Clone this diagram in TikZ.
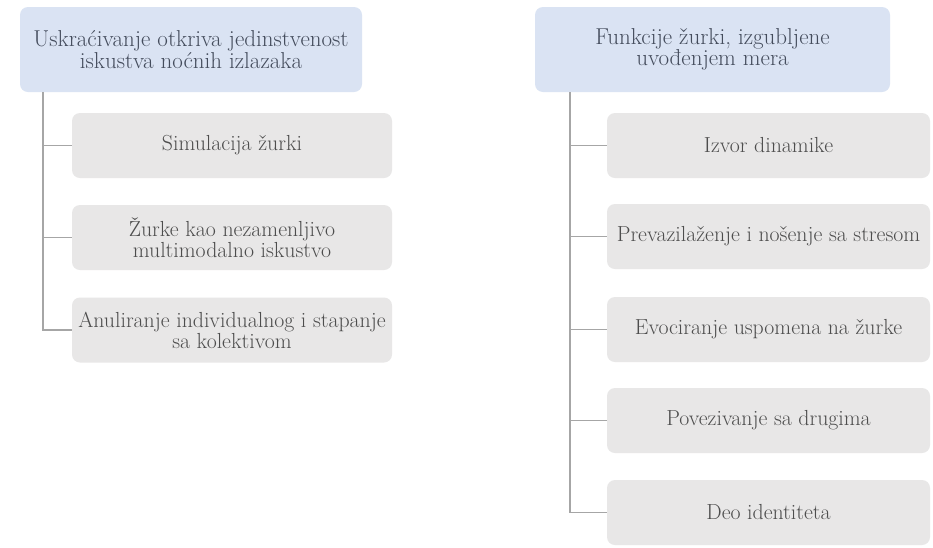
\documentclass[tikz,border=0pt]{standalone}
\usepackage{fontspec}
\definecolor{rootfill}{HTML}{DAE3F3}
\definecolor{childfill}{HTML}{E8E7E7}
\definecolor{roottext}{HTML}{444C5C}
\definecolor{childtext}{HTML}{4D4D4D}
\definecolor{linecol}{HTML}{A6A6A6}
\begin{document}
\begin{tikzpicture}[x=1pt,y=-1pt,
  rootbox/.style={fill=rootfill, rounded corners=8pt, inner sep=0pt, align=center,
    text=roottext, font=\fontsize{23}{21.5}\selectfont},
  childbox/.style={fill=childfill, rounded corners=8pt, inner sep=0pt, align=center,
    text=childtext, font=\fontsize{21.8}{21}\selectfont, minimum height=65pt},
  conn/.style={draw=linecol, line width=1.5pt}]
\useasboundingbox[fill=white] (0,0) rectangle (933,547);
% left tree
\node[rootbox, minimum width=342pt, minimum height=85pt] (lroot) at (191,49.5)
  {Uskraćivanje otkriva jedinstvenost\\iskustva noćnih izlazaka};
\node[childbox, minimum width=320pt] (lc1) at (232,145.5) {Simulacija žurki};
\node[childbox, minimum width=320pt] (lc2) at (232,237.5) {Žurke kao nezamenljivo\\multimodalno iskustvo};
\node[childbox, minimum width=320pt] (lc3) at (232,330) {Anuliranje individualnog i stapanje\\sa kolektivom};
\coordinate (lbus) at (43,0);
% right tree
\node[rootbox, minimum width=355pt, minimum height=85pt] (rroot) at (712.5,49.5)
  {Funkcije žurki, izgubljene\\uvođenjem mera};
\node[childbox, minimum width=323pt] (rc1) at (768.5,145.5) {Izvor dinamike};
\node[childbox, minimum width=323pt] (rc2) at (768.5,236.5) {Prevazilaženje i nošenje sa stresom};
\node[childbox, minimum width=323pt] (rc3) at (768.5,329.5) {Evociranje uspomena na žurke};
\node[childbox, minimum width=323pt] (rc4) at (768.5,420.5) {Povezivanje sa drugima};
\node[childbox, minimum width=323pt] (rc5) at (768.5,512.5) {Deo identiteta};
\coordinate (rbus) at (570,0);
% connectors
\draw[conn] (lroot.south -| lbus) |- (lc3.west);
\draw[conn] (lc1.west -| lbus) -- (lc1.west);
\draw[conn] (lc2.west -| lbus) -- (lc2.west);
\draw[conn] (rroot.south -| rbus) |- (rc5.west);
\draw[conn] (rc1.west -| rbus) -- (rc1.west);
\draw[conn] (rc2.west -| rbus) -- (rc2.west);
\draw[conn] (rc3.west -| rbus) -- (rc3.west);
\draw[conn] (rc4.west -| rbus) -- (rc4.west);
\end{tikzpicture}
\end{document}
